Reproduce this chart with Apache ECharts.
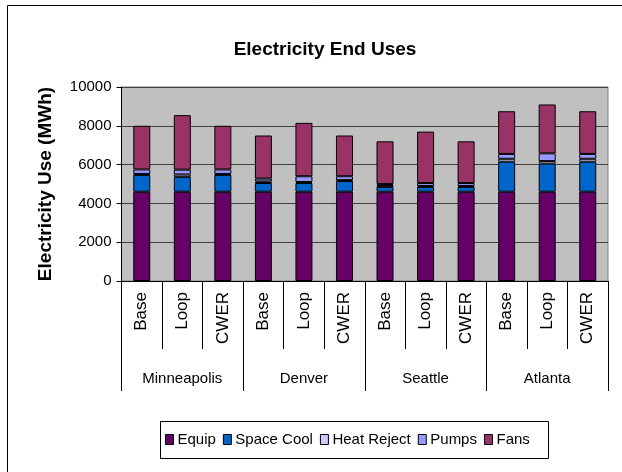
<!DOCTYPE html>
<html>
<head>
<meta charset="utf-8">
<script src="https://cdn.jsdelivr.net/npm/echarts@6/dist/echarts.min.js"></script>
<style>
html,body{margin:0;padding:0;background:#fff;}
#chart{width:622px;height:472px;}
</style>
</head>
<body>
<div id="chart"></div>
<script>
var scenarios = ['Base','Loop','CWER','Base','Loop','CWER','Base','Loop','CWER','Base','Loop','CWER'];
var cities = ['Minneapolis','Denver','Seattle','Atlanta'];
var yTicks = [0, 2000, 4000, 6000, 8000, 10000];
var equip      = [4600,4600,4600, 4600,4600,4600, 4600,4600,4600, 4600,4600,4600];
var spaceCool  = [870,770,870,   450,450,550,    250,250,250,    1550,1450,1550];
var heatReject = [50,120,50,     80,50,50,       100,50,50,      150,130,150];
var pumps      = [230,250,230,   150,300,200,    50,150,150,     250,400,250];
var fans       = [2250,2810,2250, 2220,2750,2100, 2200,2650,2150, 2200,2520,2200];

var seriesNames = ['Equip','Space Cool','Heat Reject','Pumps','Fans'];
var seriesData = [equip, spaceCool, heatReject, pumps, fans];
var colors = ['#660066','#0066CC','#CCCCFF','#9999FF','#993366'];
var FONT = "'Liberation Sans', Arial, sans-serif";

var chart = echarts.init(document.getElementById('chart'));
var series = seriesNames.map(function(n, i){
  return {
    name: n, type: 'bar', stack: 'total', xAxisIndex: 0,
    data: seriesData[i], barWidth: 17,
    itemStyle: {color: colors[i], borderColor: '#000', borderWidth: 1},
    emphasis: {disabled: true}
  };
});

chart.setOption({
  animation: false,
  backgroundColor: '#fff',
  textStyle: {fontFamily: FONT},
  title: {
    text: 'Electricity End Uses', left: 320, top: 35, textAlign: 'center',
    textStyle: {fontFamily: FONT, fontWeight: 'bold', fontSize: 19, color: '#000'}
  },
  graphic: [
    {type: 'rect', shape: {x: 7.5, y: 5.5, width: 640, height: 490}, style: {fill: 'none', stroke: '#000', lineWidth: 1}, z: 100},
    {type: 'rect', shape: {x: 160.5, y: 421.5, width: 388, height: 37}, style: {fill: 'none', stroke: '#000', lineWidth: 1}, z: 100}
  ],
  legend: {
    data: seriesNames, left: 165, top: 432, padding: 0,
    itemWidth: 8, itemHeight: 10, itemGap: 7,
    icon: 'rect',
    itemStyle: {borderColor: '#000', borderWidth: 1},
    textStyle: {fontFamily: FONT, fontSize: 15, color: '#000', padding: [0,0,0,-1]}
  },
  grid: {
    left: 121.5, right: 14, top: 87, bottom: 191,
    show: true, backgroundColor: '#C0C0C0', borderColor: '#808080', borderWidth: 1
  },
  xAxis: [
    {
      type: 'category', data: scenarios, position: 'bottom',
      axisLine: {lineStyle: {color: '#000', width: 1}},
      axisTick: {show: true, interval: 0, length: 68, lineStyle: {color: '#000'}},
      axisLabel: {interval: 0, rotate: 90, margin: 11, fontSize: 17, color: '#000', fontFamily: FONT},
      splitLine: {show: false}
    },
    {
      type: 'category', data: cities, position: 'bottom',
      axisLine: {show: true, lineStyle: {color: '#000', width: 1}},
      axisTick: {show: true, interval: 0, length: 110, lineStyle: {color: '#000'}},
      axisLabel: {interval: 0, margin: 90, fontSize: 15, color: '#000', fontFamily: FONT},
      splitLine: {show: false}
    }
  ],
  yAxis: {
    type: 'value', min: yTicks[0], max: yTicks[yTicks.length-1], interval: 2000,
    name: 'Electricity Use (MWh)', nameLocation: 'middle', nameGap: 66, nameRotate: 90,
    nameTextStyle: {fontFamily: FONT, fontWeight: 'bold', fontSize: 19, color: '#000'},
    axisLine: {show: true, lineStyle: {color: '#000'}},
    axisTick: {show: true, length: 5, lineStyle: {color: '#000'}},
    axisLabel: {margin: 10, fontSize: 15, color: '#000', fontFamily: FONT, formatter: function(v){ return String(v); }},
    splitLine: {show: true, lineStyle: {color: '#404040', width: 1}}
  },
  series: series
});
</script>
</body>
</html>
